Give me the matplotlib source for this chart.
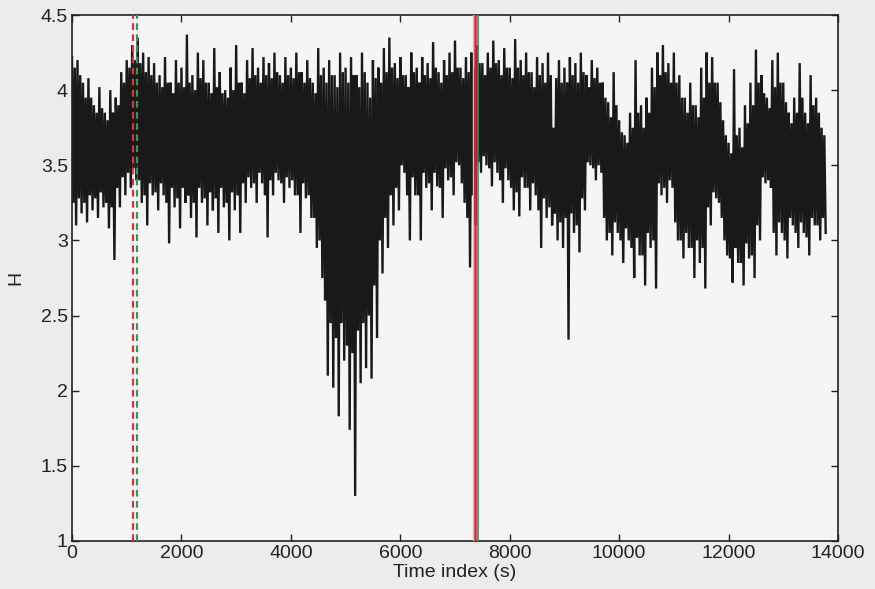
import numpy as np
import matplotlib
matplotlib.use("Agg")
import matplotlib.pyplot as plt

# Sample times (s) of the readings, one block every 100 s
times = list(range(0, 13800, 100))

# Spike maxima of H (one per 100 s block)
peaks = [
    4.22, 4.20, 4.05, 4.08, 3.90, 4.02, 3.85, 4.00, 3.95, 4.12,
    4.20, 4.30, 4.35, 4.25, 4.22, 4.18, 4.10, 4.22, 4.05, 4.20,
    4.15, 4.37, 4.10, 4.25, 4.20, 4.05, 4.28, 4.12, 4.00, 4.15,
    4.30, 4.05, 4.20, 4.28, 4.15, 4.22, 4.18, 4.25, 4.10, 4.22,
    4.15, 4.25, 4.12, 4.20, 4.05, 4.28, 4.15, 4.20, 4.10, 4.25,
    4.15, 4.22, 4.10, 4.25, 4.05, 4.20, 4.15, 4.28, 4.35, 4.18,
    4.22, 4.10, 4.25, 4.15, 4.22, 4.18, 4.32, 4.12, 4.20, 4.25,
    4.33, 4.15, 4.22, 4.25, 4.30, 4.18, 4.25, 4.33, 4.20, 4.28,
    4.15, 4.34, 4.20, 4.25, 4.12, 4.22, 4.18, 4.25, 3.75, 4.20,
    4.15, 4.22, 4.18, 4.25, 4.10, 4.20, 4.15, 4.05, 3.92, 4.12,
    3.80, 3.70, 3.85, 4.20, 3.90, 3.95, 4.15, 4.25, 4.30, 4.18,
    4.25, 4.10, 3.95, 4.05, 3.90, 4.15, 4.25, 4.22, 4.05, 3.80,
    3.65, 4.14, 3.75, 3.90, 4.05, 4.27, 4.10, 3.95, 4.20, 4.25,
    4.05, 3.85, 3.95, 4.18, 3.85, 4.10, 3.95, 3.75,
]

# Spike minima of H (one per 100 s block)
troughs = [
    3.10, 3.18, 3.12, 3.20, 3.15, 3.22, 3.08, 2.87, 3.22, 3.30,
    3.35, 3.40, 3.25, 3.10, 3.30, 3.20, 3.30, 2.98, 3.22, 3.08,
    3.25, 3.15, 3.02, 3.25, 3.10, 3.20, 3.05, 3.22, 3.00, 3.20,
    3.05, 3.25, 3.35, 3.25, 3.38, 3.02, 3.30, 3.40, 3.25, 3.35,
    3.30, 3.05, 3.28, 3.15, 2.95, 2.75, 2.10, 2.02, 1.83, 2.20,
    1.74, 1.30, 2.05, 2.15, 2.08, 2.35, 2.78, 2.95, 3.10, 3.20,
    3.45, 3.00, 3.30, 3.00, 3.35, 3.20, 3.36, 3.15, 3.40, 3.30,
    3.50, 3.25, 2.82, 3.10, 3.45, 3.50, 3.36, 3.45, 3.25, 3.40,
    3.20, 3.16, 3.35, 3.20, 3.30, 2.95, 3.15, 3.10, 3.00, 2.95,
    2.34, 3.05, 2.92, 3.20, 3.50, 3.40, 3.45, 3.00, 2.90, 3.05,
    2.85, 3.00, 2.75, 2.90, 2.70, 2.95, 2.68, 3.30, 3.25, 3.35,
    3.00, 2.88, 2.95, 2.75, 2.85, 2.68, 3.10, 3.28, 3.15, 2.90,
    2.72, 2.85, 2.70, 2.88, 2.75, 3.00, 3.38, 3.35, 2.90, 3.05,
    2.88, 3.10, 2.95, 3.05, 2.90, 3.10, 3.00, 3.05,
]

# Upper edge of the solid black band (one per 100 s block)
core_top = [
    4.15, 4.10, 3.95, 3.95, 3.85, 3.88, 3.80, 3.85, 3.90, 4.05,
    4.15, 4.20, 4.18, 4.12, 4.10, 4.05, 4.02, 4.05, 3.98, 4.05,
    4.02, 4.05, 4.00, 4.08, 4.05, 3.98, 4.02, 3.98, 3.95, 4.00,
    4.05, 3.98, 4.08, 4.10, 4.05, 4.10, 4.08, 4.12, 4.05, 4.10,
    4.08, 4.12, 4.05, 4.08, 3.98, 4.10, 4.05, 4.10, 4.02, 4.12,
    4.05, 4.10, 4.02, 4.12, 3.95, 4.08, 4.05, 4.12, 4.15, 4.08,
    4.10, 4.02, 4.12, 4.05, 4.10, 4.08, 4.15, 4.05, 4.10, 4.12,
    4.15, 4.08, 4.12, 4.15, 4.18, 4.10, 4.15, 4.18, 4.10, 4.15,
    4.08, 4.15, 4.10, 4.12, 4.02, 4.10, 4.05, 4.10, 4.08, 4.05,
    4.05, 4.10, 4.05, 4.12, 4.02, 4.08, 4.05, 3.95, 3.82, 3.90,
    3.72, 3.65, 3.75, 3.85, 3.75, 3.85, 4.02, 4.10, 4.12, 4.05,
    4.05, 3.95, 3.85, 3.90, 3.82, 3.95, 4.05, 4.05, 3.92, 3.70,
    3.58, 3.70, 3.62, 3.78, 3.90, 4.05, 3.98, 3.88, 4.02, 4.05,
    3.92, 3.78, 3.85, 3.95, 3.78, 3.90, 3.85, 3.70,
]

# Lower edge of the solid black band (one per 100 s block)
core_bottom = [
    3.25, 3.28, 3.25, 3.30, 3.28, 3.32, 3.25, 3.22, 3.35, 3.42,
    3.45, 3.48, 3.40, 3.30, 3.38, 3.32, 3.38, 3.25, 3.35, 3.28,
    3.35, 3.30, 3.25, 3.35, 3.28, 3.32, 3.28, 3.35, 3.25, 3.32,
    3.30, 3.38, 3.42, 3.38, 3.45, 3.30, 3.40, 3.45, 3.38, 3.42,
    3.40, 3.30, 3.38, 3.30, 3.15, 3.00, 2.60, 2.45, 2.35, 2.45,
    2.30, 2.25, 2.40, 2.45, 2.50, 2.70, 3.00, 3.15, 3.30, 3.35,
    3.50, 3.30, 3.42, 3.30, 3.45, 3.38, 3.45, 3.35, 3.48, 3.42,
    3.52, 3.38, 3.15, 3.30, 3.52, 3.56, 3.48, 3.52, 3.40, 3.48,
    3.35, 3.32, 3.42, 3.35, 3.38, 3.20, 3.28, 3.22, 3.18, 3.12,
    3.15, 3.18, 3.10, 3.28, 3.52, 3.48, 3.50, 3.15, 3.05, 3.12,
    3.00, 3.08, 2.95, 3.02, 2.90, 3.05, 3.00, 3.38, 3.35, 3.40,
    3.12, 3.00, 3.05, 2.95, 3.00, 2.95, 3.22, 3.32, 3.25, 3.00,
    2.88, 2.95, 2.85, 2.98, 2.90, 3.10, 3.42, 3.40, 3.05, 3.12,
    3.00, 3.15, 3.05, 3.12, 3.02, 3.15, 3.10, 3.15,
]

# Marker lines (time, s)
red_dashed_t = 1110
green_dashed_t = 1190
blue_solid_t = 7320
red_solid_t = 7360
green_solid_t = 7420

xticks = [0, 2000, 4000, 6000, 8000, 10000, 12000, 14000]
yticks = [1, 1.5, 2, 2.5, 3, 3.5, 4, 4.5]
ytick_labels = ["1", "1.5", "2", "2.5", "3", "3.5", "4", "4.5"]

# Interleave the four readings of each block into one series
t_series = []
h_series = []
for t, hi, lo, ct, cb in zip(times, peaks, troughs, core_top, core_bottom):
    t_series += [t, t + 25, t + 50, t + 75]
    h_series += [hi, cb, ct, lo]

plt.rcParams['font.family'] = ['Liberation Sans', 'DejaVu Sans']

fig = plt.figure(figsize=(8.75, 5.89), dpi=100, facecolor='#edebeb')
ax = fig.add_axes([0.0823, 0.0815, 0.8754, 0.8930])
ax.set_facecolor('#f6f4f4')

ax.plot(t_series, h_series, color='#1b181a', lw=1.7, solid_joinstyle='miter')

ax.axvline(red_dashed_t, color='#e0303a', lw=1.6, ls=(0, (3, 2)), zorder=3)
ax.axvline(green_dashed_t, color='#2e9a5a', lw=1.6, ls=(0, (3, 2)), zorder=3)
ax.axvline(blue_solid_t, color='#a9d3ea', lw=1.0, zorder=3)
ax.axvline(red_solid_t, color='#d8262c', lw=1.8, zorder=3)
ax.axvline(green_solid_t, color='#2f8f6a', lw=1.2, zorder=3)

ax.set_xlim(0, 14000)
ax.set_ylim(1, 4.5)
ax.set_xticks(xticks)
ax.set_xticklabels([str(v) for v in xticks])
ax.set_yticks(yticks)
ax.set_yticklabels(ytick_labels)
ax.tick_params(direction='in', top=True, right=True, length=5, width=1,
               labelsize=14, pad=3, colors='#222222')
for s in ax.spines.values():
    s.set_linewidth(1.2)
    s.set_color('#222222')

ax.set_xlabel('Time index (s)', fontsize=14, labelpad=1, color='#222222')
ax.set_ylabel('H', fontsize=14, labelpad=12, color='#222222')

fig.savefig('out.png', dpi=100, facecolor=fig.get_facecolor())
